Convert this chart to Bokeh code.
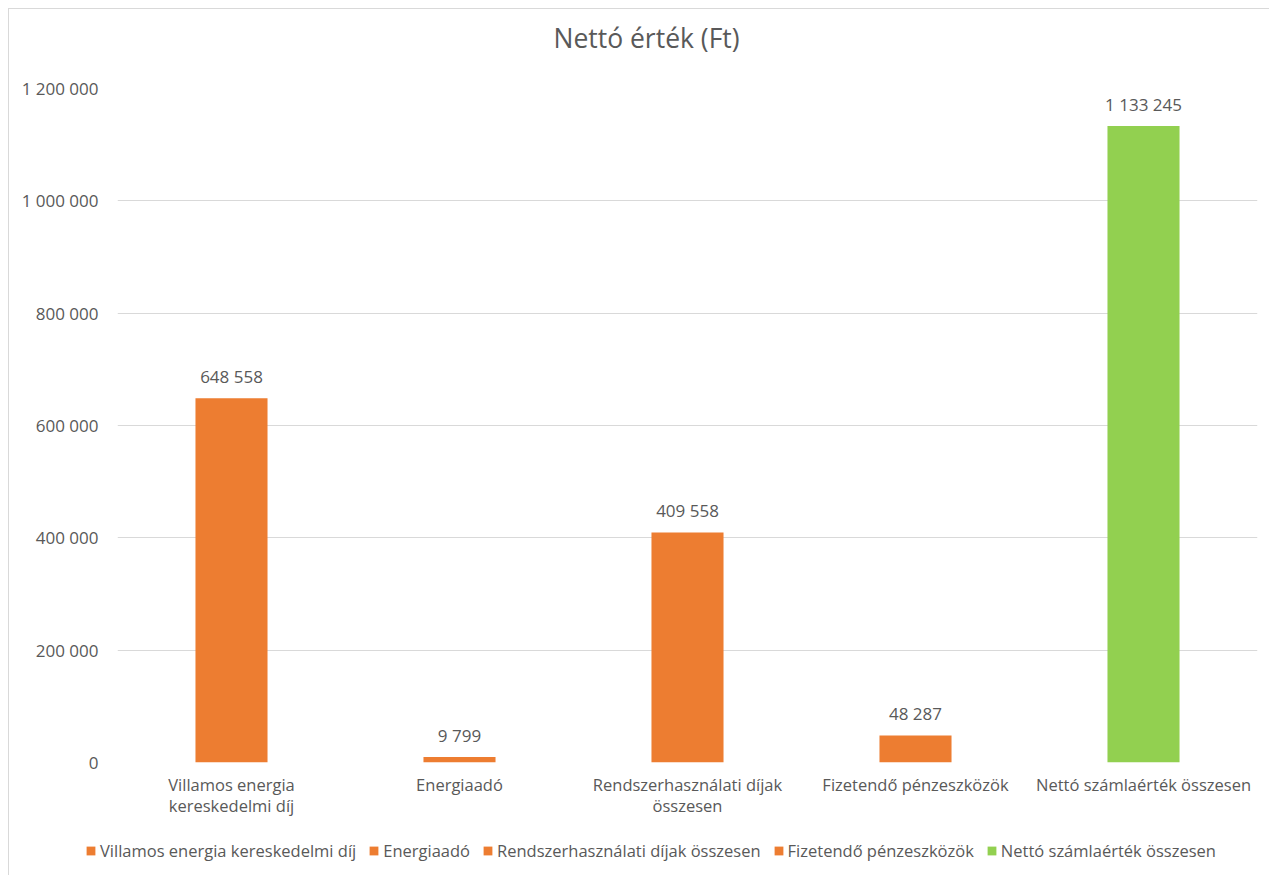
from bokeh.plotting import figure
from bokeh.layouts import column
from bokeh.models import ColumnDataSource, FactorRange, Range1d, FixedTicker, Legend, LegendItem
from bokeh.embed import file_html
from bokeh.resources import INLINE
from bokeh.core.properties import value

title_text = "Nettó érték (Ft)"
categories = ["Villamos energia kereskedelmi díj", "Energiaadó", "Rendszerhasználati díjak összesen",
              "Fizetendő pénzeszközök", "Nettó számlaérték összesen"]
label_line1 = ["Villamos energia", "Energiaadó", "Rendszerhasználati díjak",
               "Fizetendő pénzeszközök", "Nettó számlaérték összesen"]
label_line2 = ["kereskedelmi díj", "", "összesen", "", ""]
values = [648558, 9799, 409558, 48287, 1133245]
colors = ["#ED7D31", "#ED7D31", "#ED7D31", "#ED7D31", "#92D050"]
y_ticks = [0, 200000, 400000, 600000, 800000, 1000000, 1200000]

FONT = "Open Sans"
TXT = "#595959"
FS = "17px"
FS_CAT = "16.5px"
W = 1260

def fmt(v):
    return f"{v:,}".replace(",", " ")

src = ColumnDataSource(dict(cat=categories, val=values, col=colors, lab=[fmt(v) for v in values],
                            l1=label_line1, l2=label_line2, zero=[0] * len(categories)))

def strip(height, x_range, y_range, left=0, right=0):
    f = figure(x_range=x_range, y_range=y_range, width=W, height=height,
               output_backend="svg", toolbar_location=None, x_axis_location=None, y_axis_location=None,
               min_border_left=left, min_border_right=right, min_border_top=0, min_border_bottom=0)
    f.outline_line_color = None
    f.xgrid.grid_line_color = None
    f.ygrid.grid_line_color = None
    return f

# title strip
p0 = strip(63, Range1d(0, W), Range1d(-1, 0))
p0.text(x=[637], y=[0], text=[title_text], y_offset=28, text_align="center",
        text_baseline="alphabetic", text_font=value(FONT), text_font_size="26.5px", text_color=TXT)

# main chart
p = figure(x_range=FactorRange(*categories), y_range=Range1d(0, 1200000),
           width=W, height=702, output_backend="svg", toolbar_location=None,
           min_border_left=108, min_border_right=12, min_border_top=16, min_border_bottom=12,
           x_axis_location=None)
p.outline_line_color = None

r = p.vbar(x="cat", top="val", width=0.316, color="col", line_color=None, source=src)
p.text(x="cat", y="val", text="lab", source=src, text_align="center", text_baseline="bottom",
       y_offset=-10, text_font=value(FONT), text_font_size=FS, text_color=TXT)

p.yaxis.ticker = FixedTicker(ticks=y_ticks)
p.yaxis.major_label_overrides = {t: fmt(t) for t in y_ticks}
p.yaxis.axis_line_color = None
p.yaxis.major_tick_line_color = None
p.yaxis.minor_tick_line_color = None
p.yaxis.major_label_text_font = FONT
p.yaxis.major_label_text_font_size = FS
p.yaxis.major_label_text_color = TXT
p.yaxis.major_label_standoff = 13

p.xgrid.grid_line_color = None
p.ygrid.grid_line_color = "#d9d9d9"
p.ygrid.grid_line_width = 1

# category labels strip (shares the x scale with the chart)
p2 = strip(57, p.x_range, Range1d(-1, 0), left=108, right=12)
for col, off in (("l1", 10), ("l2", 31)):
    p2.text(x="cat", y="zero", text=col, source=src, y_offset=off, text_align="center",
            text_baseline="middle", text_font=value(FONT), text_font_size=FS_CAT, text_color=TXT)

# legend strip
p3 = strip(44, FactorRange(*categories), Range1d(2e9, 2e9 + 1))
rl = p3.vbar(x="cat", top="val", width=0.316, color="col", line_color=None, source=src)
items = [LegendItem(label=c, renderers=[rl], index=i) for i, c in enumerate(categories)]
legend = Legend(items=items, orientation="horizontal", location=(76, 13),
                label_text_font=FONT, label_text_font_size=FS_CAT, label_text_color=TXT,
                glyph_width=11, glyph_height=11, label_standoff=4, spacing=12,
                padding=0, margin=0, border_line_color=None, background_fill_alpha=0)
p3.add_layout(legend, "center")

layout = column(column(p0), column(p, p2, spacing=0), column(p3), spacing=0)
layout.styles = {"border": "1px solid #d9d9d9", "margin": "8px 0 0 8px"}

open("out.html", "w").write(file_html(layout, INLINE))
